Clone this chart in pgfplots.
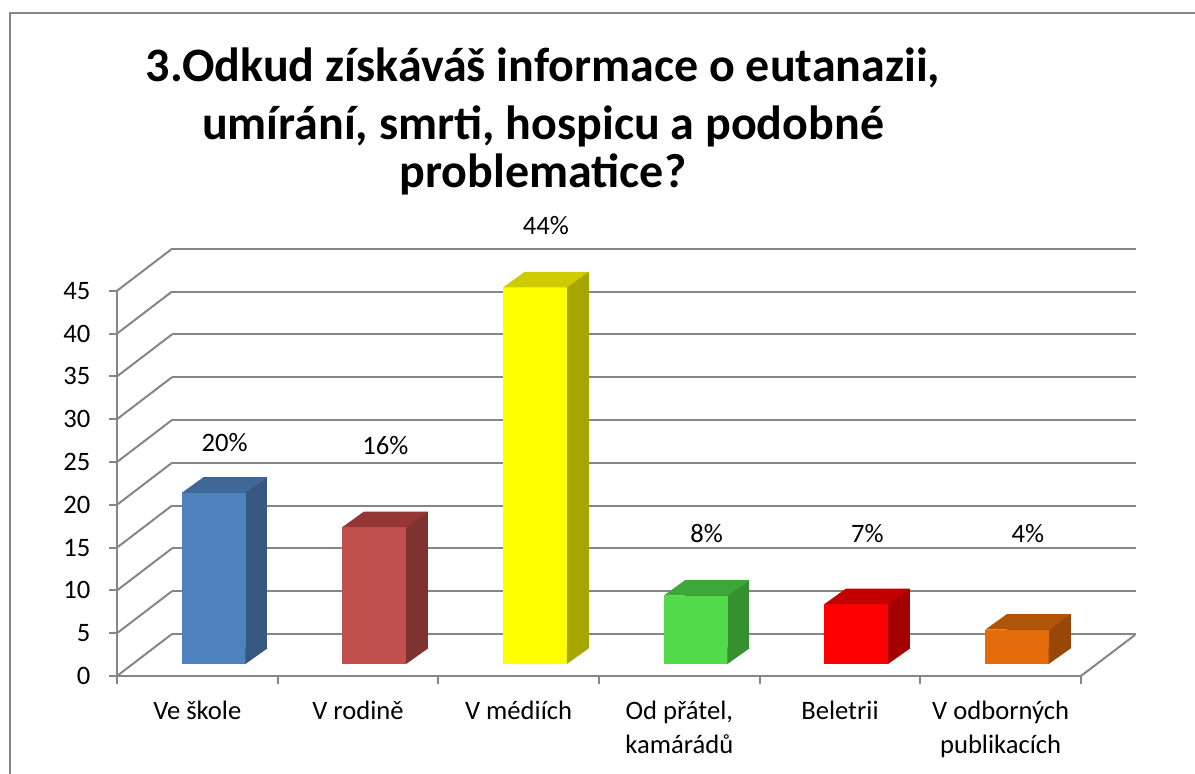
\documentclass[border=0pt]{standalone}
\usepackage{pgfplots}
\pgfplotsset{compat=1.18}
\usepackage{pgfplotstable}
\usepackage{fontspec}
\setmainfont{Carlito}

\definecolor{gridgray}{RGB}{134,134,134}
\definecolor{c0F}{HTML}{4F81BD}\definecolor{c0S}{HTML}{36577F}\definecolor{c0T}{HTML}{3F6797}
\definecolor{c1F}{HTML}{C0504D}\definecolor{c1S}{HTML}{7F3330}\definecolor{c1T}{HTML}{953735}
\definecolor{c2F}{HTML}{FFFF00}\definecolor{c2S}{HTML}{A6A600}\definecolor{c2T}{HTML}{CCCC00}
\definecolor{c3F}{HTML}{52DA4A}\definecolor{c3S}{HTML}{359030}\definecolor{c3T}{HTML}{3FA639}
\definecolor{c4F}{HTML}{FF0000}\definecolor{c4S}{HTML}{A50000}\definecolor{c4T}{HTML}{C20000}
\definecolor{c5F}{HTML}{E46C0A}\definecolor{c5S}{HTML}{974706}\definecolor{c5T}{HTML}{B05408}

% cx: category centre, val: percentage, lab: height of the value label
\pgfplotstableread{
cx  val lab
0.5 20  24.73
1.5 16  24.42
2.5 44  50.12
3.5 8   14.1
4.5 7   14.1
5.5 4   14.1
}\datatable

\pgfdeclareplotmark{topface}{%
  \pgfpathmoveto{\pgfqpoint{-16pt}{0pt}}%
  \pgfpathlineto{\pgfqpoint{-5.25pt}{7.75pt}}%
  \pgfpathlineto{\pgfqpoint{26.75pt}{7.75pt}}%
  \pgfpathlineto{\pgfqpoint{16pt}{0pt}}%
  \pgfpathclose
  \pgfusepath{fill}}
\pgfdeclareplotmark{bottri}{%
  \pgfpathmoveto{\pgfqpoint{15.8pt}{0pt}}%
  \pgfpathlineto{\pgfqpoint{26.75pt}{7.75pt}}%
  \pgfpathlineto{\pgfqpoint{26.75pt}{8.2pt}}%
  \pgfpathlineto{\pgfqpoint{15.8pt}{8.2pt}}%
  \pgfpathclose
  \pgfusepath{fill}}

\begin{document}
\begin{tikzpicture}
\useasboundingbox (0,0) rectangle (597.5pt,387pt);
\draw[gridgray, line width=0.6pt] (5pt,0pt) -- (5pt,380.5pt) -- (597.5pt,380.5pt);

% title
\begin{scope}[every node/.style={anchor=base, font=\fontsize{24}{28}\selectfont\bfseries, inner sep=0pt}]
\node at (271.5pt,346pt) {3.Odkud získáváš informace o eutanazii,};
\node at (271.5pt,317.25pt) {umírání, smrti, hospicu a podobné};
\node at (271.5pt,293pt) {problematice?};
\end{scope}

% back wall: grid lines
\begin{axis}[
  at={(86pt,70pt)}, anchor=south west,
  x=80.33pt, y=4.28pt, scale only axis,
  xmin=0, xmax=6, ymin=0, ymax=45, enlargelimits=false,
  axis line style={draw=none},
  xtick=\empty, ytick={0,5,...,45}, yticklabels={},
  major tick length=0pt, tick style={draw=none},
  ymajorgrids, grid style={draw=gridgray, line width=1pt},
]
\end{axis}

% front axis with ticks and labels
\begin{axis}[
  at={(58.5pt,49pt)}, anchor=south west,
  x=80.33pt, y=4.28pt, scale only axis,
  xmin=0, xmax=6, ymin=0, ymax=45, enlargelimits=false,
  axis lines=left,
  axis line style={-, draw=gridgray, line width=1pt},
  xtick={0,...,6}, x tick label as interval,
  xticklabels={Ve škole, V rodině, V médiích, {Od přátel,\\kamárádů}, Beletrii, {V odborných\\publikacích}},
  ytick={0,5,...,45},
  tick align=outside, major tick length=4pt,
  tick style={draw=gridgray, line width=1pt},
  /pgf/number format/assume math mode=true,
  tick label style={font=\fontsize{13.3}{16.75}\selectfont},
  xticklabel style={align=center, anchor=north, yshift=-5pt},
  yticklabel style={xshift=-5.75pt},
  clip=false,
]
\pgfplotsinvokeforeach{0,5,...,45}{
  \draw[gridgray, line width=1pt] (axis cs:0,#1) -- ++(27.5pt,21pt);
}
\draw[gridgray, line width=1pt] (axis cs:6,0) -- ++(27pt,20.5pt);
\end{axis}

% back faces of the bars (side colour), plane shifted by the bar depth
\begin{axis}[
  at={(77.5pt,62.75pt)}, anchor=south west,
  x=80.33pt, y=4.28pt, scale only axis,
  xmin=0, xmax=6, ymin=0, ymax=45, enlargelimits=false,
  hide axis, clip=false,
]
\pgfplotsinvokeforeach{0,...,5}{
  \addplot[ybar, bar width=32pt, bar shift=0pt, fill=c#1S, draw=none,
    restrict x to domain=#1.2:#1.8] table[x=cx, y=val] {\datatable};
}
\end{axis}

% bars: front faces, top faces, value labels
\begin{axis}[
  at={(66.75pt,55pt)}, anchor=south west,
  x=80.33pt, y=4.28pt, scale only axis,
  xmin=0, xmax=6, ymin=0, ymax=45, enlargelimits=false,
  hide axis, clip=false,
]
\pgfplotsinvokeforeach{0,...,5}{
  \addplot[only marks, mark=bottri, mark options={fill=c#1S, draw=none},
    restrict x to domain=#1.2:#1.8] table[x=cx, y expr=0] {\datatable};
  \addplot[only marks, mark=topface, mark options={fill=c#1T, draw=none},
    restrict x to domain=#1.2:#1.8] table[x=cx, y=val] {\datatable};
  \addplot[ybar, bar width=32pt, bar shift=0pt, fill=c#1F, draw=none,
    restrict x to domain=#1.2:#1.8] table[x=cx, y=val] {\datatable};
}
\addplot[draw=none, mark=none, point meta=explicit symbolic,
  nodes near coords={\pgfplotspointmeta\%},
  every node near coord/.append style={xshift=5.4pt, inner sep=0pt,
    font=\fontsize{13.3}{16}\selectfont},
] table[x=cx, y=lab, meta=val] {\datatable};
\end{axis}
\end{tikzpicture}
\end{document}
